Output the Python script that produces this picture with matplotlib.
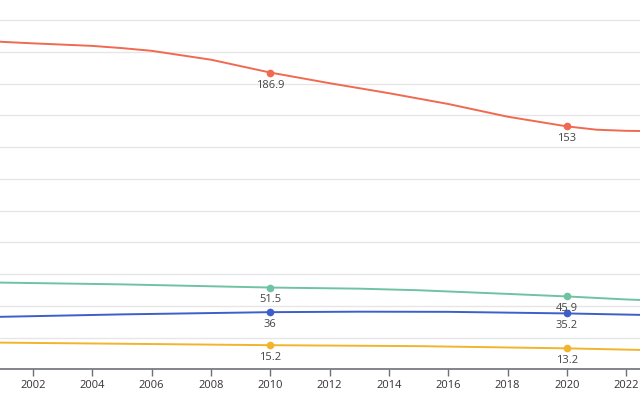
import matplotlib
matplotlib.use("Agg")
import matplotlib.pyplot as plt
import numpy as np

# values
red_years = [2000, 2001, 2002, 2004, 2005, 2006, 2008, 2010, 2012, 2014, 2016, 2018, 2020, 2021, 2022, 2023]
red_vals = [207.5, 206.2, 205.3, 203.7, 202.3, 200.6, 195.0, 186.9, 180.2, 173.9, 167.1, 159.1, 153.0, 150.9, 150.2, 150.0]

green_years = [2000, 2001, 2005, 2010, 2013, 2015, 2018, 2020, 2022, 2023]
green_vals = [54.8, 54.6, 53.5, 51.5, 50.8, 49.8, 47.5, 45.9, 44.0, 43.3]

blue_years = [2000, 2001, 2005, 2010, 2013, 2016, 2020, 2023]
blue_vals = [32.9, 33.1, 34.6, 36.0, 36.3, 36.2, 35.2, 34.1]

yellow_years = [2000, 2001, 2005, 2010, 2015, 2020, 2023]
yellow_vals = [16.9, 16.8, 16.1, 15.2, 14.6, 13.2, 12.0]

marked_years = [2010, 2020]

series = [
    (red_years, red_vals, '#ef6a50'),
    (green_years, green_vals, '#6fc3a3'),
    (blue_years, blue_vals, '#3d5fc9'),
    (yellow_years, yellow_vals, '#f2b42a'),
]

fig = plt.figure(figsize=(6.4, 4.0), dpi=100)
ax = fig.add_axes([0, 0.0767, 1, 0.9233])

for yrs, vals, col in series:
    ax.plot(yrs, vals, color=col, linewidth=1.4, zorder=3)
    for y in marked_years:
        v = vals[yrs.index(y)]
        ax.plot(y, v, 'o', color=col, markersize=4.5, zorder=4)
        lab = f"{v:g}"
        ax.annotate(lab, (y, v), xytext=(0, -5), textcoords='offset points',
                    ha='center', va='top', fontsize=8, color='#444444',
                    family='Open Sans', zorder=5)

ax.set_xlim(2000.89, 2022.46)
ax.set_ylim(0, 232.6)
ax.set_yticks(np.arange(0, 221, 20))
ax.set_yticklabels([])
ax.tick_params(axis='y', length=0)
ax.set_xticks(np.arange(2002, 2023, 2))
ax.tick_params(axis='x', length=5, width=1, color='#6e7079', labelsize=8,
               labelcolor='#333333', pad=3)
for lbl in ax.get_xticklabels():
    lbl.set_family('Open Sans')

ax.grid(axis='y', color='#e6e6e6', linewidth=1)
ax.set_axisbelow(True)
for s in ['top', 'left', 'right']:
    ax.spines[s].set_visible(False)
ax.spines['bottom'].set_color('#6e7079')
ax.spines['bottom'].set_linewidth(1.2)

fig.savefig('out.png', dpi=100)
